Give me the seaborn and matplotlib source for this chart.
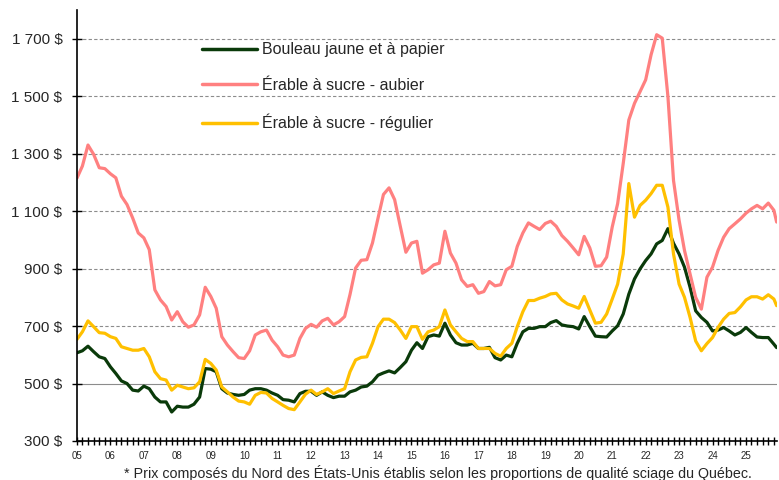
import numpy as np
import pandas as pd
import matplotlib
matplotlib.use("Agg")
import matplotlib.pyplot as plt
import matplotlib.dates as mdates
from matplotlib.lines import Line2D
import seaborn as sns

# ---- data (bimonthly, CAD $) ----
dates = list(pd.date_range("2005-01-01", "2025-11-01", freq="2MS")) + [pd.Timestamp("2025-12-01")]

bouleau = [607, 614, 630, 611, 593, 587, 558, 535, 509, 500, 477, 474, 491, 482, 453, 436,
           436, 401, 421, 418, 418, 428, 453, 552, 550, 541, 482, 467, 462, 459, 462, 477,
           482, 482, 477, 467, 459, 444, 442, 436, 465, 473, 473, 459, 471, 459, 451, 456,
           456, 471, 477, 488, 491, 506, 529, 537, 544, 537, 556, 576, 616, 642, 622, 663,
           669, 665, 710, 669, 642, 634, 634, 640, 622, 622, 626, 590, 582, 599, 593, 640,
           680, 692, 692, 698, 698, 712, 719, 704, 700, 698, 690, 733, 698, 665, 663,
           662, 683, 701, 742, 811, 864, 899, 928, 951, 986, 998, 1039, 988, 951, 905, 835,
           753, 730, 713, 683, 686, 695, 683, 669, 678, 695, 678, 662, 660, 660, 637, 625]

erable_aubier = [1215, 1257, 1330, 1298, 1251, 1248, 1230, 1216, 1152, 1123, 1076, 1024, 1007, 966, 826, 791,
                 768, 721, 750, 715, 696, 704, 739, 835, 803, 762, 663, 634, 611, 590, 587, 614,
                 669, 680, 686, 651, 628, 599, 593, 599, 657, 692, 706, 696, 718, 727, 704, 715,
                 733, 810, 902, 929, 931, 989, 1076, 1158, 1181, 1140, 1047, 957, 989, 995, 884, 896,
                 913, 919, 1030, 954, 919, 861, 838, 844, 814, 820, 855, 840, 844, 896, 908, 977,
                 1024, 1059, 1047, 1036, 1057, 1065, 1047, 1015, 995, 972, 948, 1012, 972, 908, 910,
                 940, 1045, 1126, 1266, 1417, 1475, 1516, 1557, 1644, 1714, 1702, 1499, 1207, 1068, 963, 881,
                 800, 759, 870, 905, 963, 1009, 1039, 1056, 1073, 1093, 1108, 1120, 1108, 1128, 1103, 1062]

erable_regulier = [654, 680, 718, 698, 677, 675, 663, 657, 628, 622, 616, 616, 622, 593, 541, 517,
                   512, 477, 494, 488, 482, 485, 506, 584, 570, 547, 488, 471, 453, 439, 436, 428,
                   459, 469, 467, 448, 436, 424, 413, 409, 436, 463, 477, 462, 471, 482, 465, 474,
                   482, 541, 582, 591, 593, 640, 698, 724, 724, 712, 686, 657, 698, 698, 654, 680,
                   686, 698, 756, 704, 680, 657, 646, 646, 622, 622, 622, 605, 595, 622, 640, 698,
                   750, 789, 789, 797, 803, 812, 814, 791, 777, 770, 762, 803, 756, 710, 713,
                   742, 794, 846, 951, 1196, 1079, 1120, 1138, 1161, 1190, 1190, 1114, 951, 846, 800, 730,
                   648, 614, 639, 660, 695, 724, 744, 747, 767, 791, 802, 802, 794, 809, 794, 771]

series_names = ["Bouleau jaune et à papier", "Érable à sucre - aubier", "Érable à sucre - régulier"]
series_colors = ["#0a3a0a", "#ff8080", "#ffc000"]
y_ticks = [300, 500, 700, 900, 1100, 1300, 1500, 1700]
footnote = "* Prix composés du Nord des États-Unis établis selon les proportions de qualité sciage du Québec."

# ---- long-form table ----
df = pd.concat([
    pd.DataFrame({"date": dates, "prix": vals, "serie": name})
    for name, vals in zip(series_names, [bouleau, erable_aubier, erable_regulier])
], ignore_index=True)

sns.set_theme(style="white")
plt.rcParams["font.family"] = ["Liberation Sans", "DejaVu Sans"]

fig = plt.figure(figsize=(7.79, 4.80), dpi=100)
ax = fig.add_axes([77 / 779, 1 - 441 / 480, 700 / 779, 431 / 480])

sns.lineplot(data=df, x="date", y="prix", hue="serie", hue_order=series_names,
             palette=dict(zip(series_names, series_colors)), linewidth=2.3, ax=ax,
             legend=False)

ax.set_ylim(300, 1800)
ax.set_xlim(pd.Timestamp("2005-01-01"), pd.Timestamp("2025-12-05"))
ax.set_yticks(y_ticks)
ax.set_yticklabels([f"{v:,}".replace(",", " ") + " $" for v in y_ticks], fontsize=11)

for v in y_ticks[1:]:
    ax.axhline(v, color="#8c8c8c", linewidth=0.8,
               linestyle="-" if v == 500 else (0, (3, 2)), zorder=0)

ax.xaxis.set_major_locator(mdates.YearLocator(1))
ax.xaxis.set_major_formatter(mdates.DateFormatter("%y"))
ax.xaxis.set_minor_locator(mdates.MonthLocator(bymonth=[3, 5, 7, 9, 11]))
ax.tick_params(axis="x", which="both", direction="inout", length=6, width=1, color="black",
               labelsize=7, pad=4, bottom=True)
ax.tick_params(axis="y", direction="inout", length=7, width=1, color="black", pad=7, left=True)

ax.set_xlabel("")
ax.set_ylabel("")
for s in ["top", "right"]:
    ax.spines[s].set_visible(False)
for s in ["left", "bottom"]:
    ax.spines[s].set_color("black")
    ax.spines[s].set_linewidth(1.2)
ax.grid(False)

handles = [Line2D([0], [0], color=c, linewidth=2.5) for c in series_colors]
ax.legend(handles, series_names, loc="upper left", bbox_to_anchor=(0.179, 0.925),
          frameon=False, fontsize=11.5, handlelength=3.4, handletextpad=0.35,
          labelspacing=1.3, borderpad=0, borderaxespad=0)

fig.text(438 / 779, 1 - 473 / 480, footnote, ha="center", va="center", fontsize=10.3)

fig.savefig("out.png", dpi=100)
